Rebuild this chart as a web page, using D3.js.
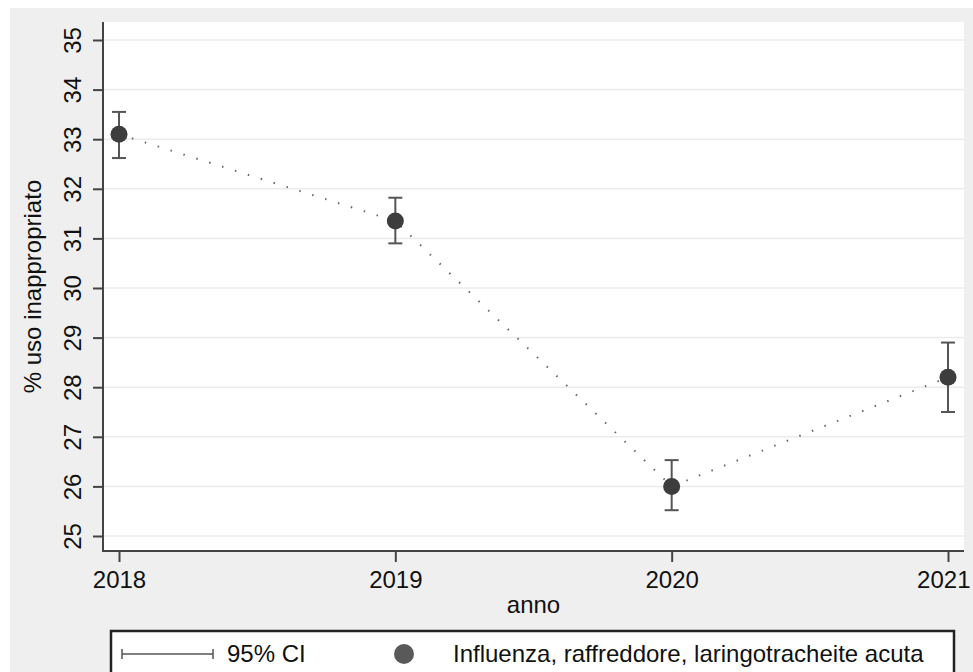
<!DOCTYPE html>
<html>
<head>
<meta charset="utf-8">
<script src="https://cdn.jsdelivr.net/npm/d3@7"></script>
<style>
  body { margin: 0; background: #fff; }
  text { font-family: "Liberation Sans", Arial, sans-serif; fill: #111; }
</style>
</head>
<body>
<div id="chart"></div>
<script>
// dati
const years = [2018, 2019, 2020, 2021];
const means = [33.1, 31.35, 26.0, 28.2];
const ciLow = [32.62, 30.9, 25.52, 27.5];
const ciHigh = [33.55, 31.82, 26.53, 28.9];
const yTicks = [25, 26, 27, 28, 29, 30, 31, 32, 33, 34, 35];
const xLabel = 'anno';
const yLabel = '% uso inappropriato';
const legendCI = '95% CI';
const legendSeries = 'Influenza, raffreddore, laringotracheite acuta';

const data = years.map((y, i) => ({ year: y, mean: means[i], lo: ciLow[i], hi: ciHigh[i] }));

const W = 973, H = 672;
const plot = { left: 103, top: 22, right: 964, bottom: 551 };
const fs = 24;

const svg = d3.select('#chart').append('svg').attr('width', W).attr('height', H);

// sfondo grigio + area del grafico bianca
svg.append('rect').attr('x', 10).attr('y', 8).attr('width', W - 10).attr('height', H - 8).attr('fill', '#efefef');
svg.append('rect').attr('x', plot.left).attr('y', plot.top)
  .attr('width', plot.right - plot.left).attr('height', plot.bottom - plot.top).attr('fill', '#fff');

const x = d3.scaleLinear().domain([2018, 2021]).range([119, 948]);
const y = d3.scaleLinear().domain([25, 35]).range([536, 40]);

// griglia
svg.append('g').selectAll('line').data(yTicks).enter().append('line')
  .attr('x1', plot.left).attr('x2', plot.right)
  .attr('y1', d => y(d)).attr('y2', d => y(d))
  .attr('stroke', '#ebebeb').attr('stroke-width', 1.5);

// asse y
const yAxis = d3.axisLeft(y).tickValues(yTicks).tickSize(10).tickSizeOuter(0);
const gy = svg.append('g').attr('transform', `translate(${plot.left},0)`).call(yAxis);
gy.select('.domain').remove();
gy.selectAll('.tick line').attr('stroke', '#444').attr('stroke-width', 2);
gy.selectAll('.tick text')
  .attr('x', null).attr('dy', null)
  .attr('transform', 'translate(-22,0) rotate(-90)')
  .style('text-anchor', 'middle').style('font-size', fs + 'px').attr('fill', '#111');
svg.append('line').attr('x1', plot.left).attr('x2', plot.left)
  .attr('y1', plot.top).attr('y2', plot.bottom + 1)
  .attr('stroke', '#444').attr('stroke-width', 2);

// asse x
const xAxis = d3.axisBottom(x).tickValues(years).tickFormat(d3.format('d')).tickSize(11).tickSizeOuter(0);
const gx = svg.append('g').attr('transform', `translate(0,${plot.bottom})`).call(xAxis);
gx.select('.domain').remove();
gx.selectAll('.tick line').attr('stroke', '#444').attr('stroke-width', 2);
gx.selectAll('.tick text').attr('y', 37).attr('dy', null)
  .style('font-size', fs + 'px').attr('fill', '#111');
// l'ultima etichetta resta dentro il bordo
gx.selectAll('.tick text').filter(d => d === 2021).attr('x', 22).style('text-anchor', 'end');
svg.append('line').attr('x1', plot.left - 1).attr('x2', plot.right)
  .attr('y1', plot.bottom).attr('y2', plot.bottom)
  .attr('stroke', '#444').attr('stroke-width', 2);

// titoli assi
svg.append('text').attr('x', (plot.left + plot.right) / 2).attr('y', 613)
  .attr('text-anchor', 'middle').style('font-size', fs + 'px').text(xLabel);
svg.append('text').attr('transform', `translate(41,${(plot.top + plot.bottom) / 2}) rotate(-90)`)
  .attr('text-anchor', 'middle').style('font-size', fs + 'px').text(yLabel);

// linea tratteggiata tra le medie
const line = d3.line().x(d => x(d.year)).y(d => y(d.mean));
svg.append('path').datum(data).attr('d', line)
  .attr('fill', 'none').attr('stroke', '#666').attr('stroke-width', 2)
  .attr('stroke-dasharray', '1.5,12');

// barre di errore
const eb = svg.append('g').selectAll('g').data(data).enter().append('g');
eb.append('line').attr('x1', d => x(d.year)).attr('x2', d => x(d.year))
  .attr('y1', d => y(d.lo)).attr('y2', d => y(d.hi))
  .attr('stroke', '#555').attr('stroke-width', 2);
eb.selectAll('.cap').data(d => [[d.year, d.lo], [d.year, d.hi]]).enter().append('line')
  .attr('x1', d => x(d[0]) - 7).attr('x2', d => x(d[0]) + 7)
  .attr('y1', d => y(d[1])).attr('y2', d => y(d[1]))
  .attr('stroke', '#555').attr('stroke-width', 2);

// punti
svg.append('g').selectAll('circle').data(data).enter().append('circle')
  .attr('cx', d => x(d.year)).attr('cy', d => y(d.mean)).attr('r', 8.5)
  .attr('fill', '#3d3d3d');

// legenda
const lg = svg.append('g');
lg.append('rect').attr('x', 111).attr('y', 631).attr('width', 843).attr('height', 70)
  .attr('fill', '#fff').attr('stroke', '#222').attr('stroke-width', 2.5);
lg.append('line').attr('x1', 122).attr('x2', 213).attr('y1', 654).attr('y2', 654)
  .attr('stroke', '#555').attr('stroke-width', 1.5);
[122, 213].forEach(cx => lg.append('line').attr('x1', cx).attr('x2', cx)
  .attr('y1', 649).attr('y2', 659).attr('stroke', '#555').attr('stroke-width', 1.5));
lg.append('text').attr('x', 227).attr('y', 662).style('font-size', fs + 'px').text(legendCI);
lg.append('circle').attr('cx', 404).attr('cy', 654).attr('r', 10).attr('fill', '#595959');
lg.append('text').attr('x', 453).attr('y', 662).style('font-size', fs + 'px').text(legendSeries);
</script>
</body>
</html>
